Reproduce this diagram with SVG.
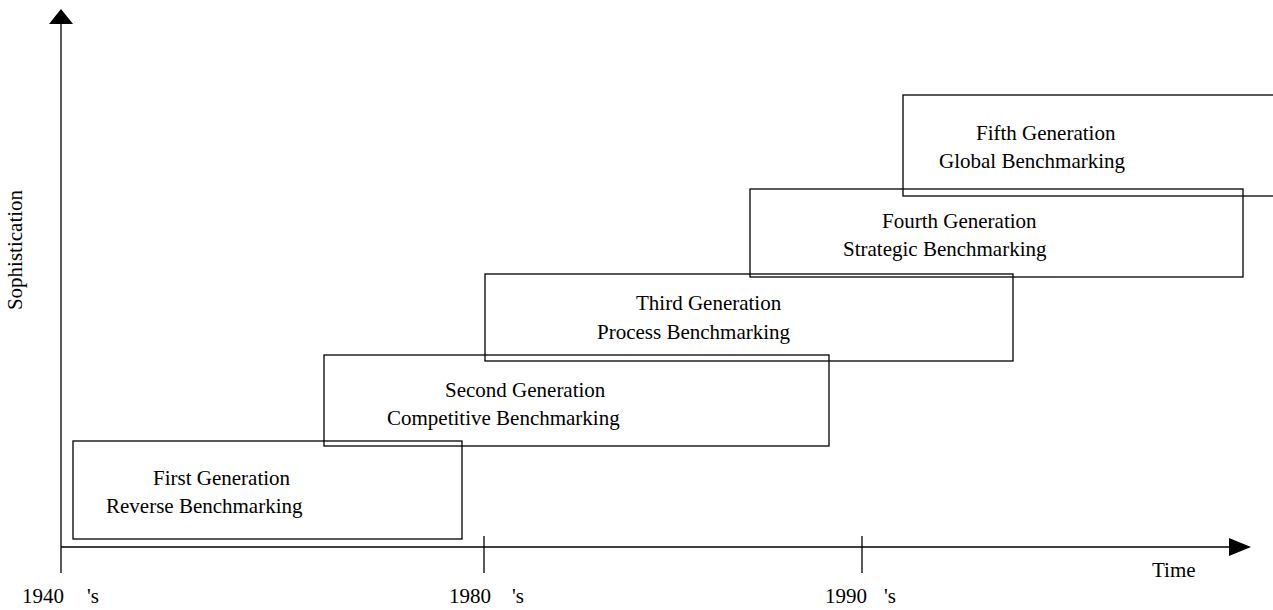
<svg xmlns="http://www.w3.org/2000/svg" width="1273" height="610" viewBox="0 0 1273 610">
  <style>
    .box { fill: none; stroke: #000; stroke-width: 1.3; }
    .axis { fill: none; stroke: #000; stroke-width: 1.3; }
    .head { fill: #000; stroke: none; }
    text { font-family: "Liberation Serif", "Times New Roman", serif; font-size: 21px; fill: #000; }
  </style>

  <rect width="1273" height="610" fill="#fff"/>

  <!-- axes, ticks and arrowheads -->
  <g id="connectors">
    <line class="axis" x1="61" y1="24" x2="61" y2="573"/>
    <polygon class="head" points="61,9 49,24 73,24"/>
    <line class="axis" x1="61" y1="547" x2="1230" y2="547"/>
    <polygon class="head" points="1229,538 1251,547 1229,556"/>
    <line class="axis" x1="484" y1="536" x2="484" y2="573"/>
    <line class="axis" x1="862" y1="536" x2="862" y2="573"/>
  </g>

  <!-- axis labels -->
  <g id="axis-labels">
    <text x="22" y="250" transform="rotate(-90 22 250)" text-anchor="middle">Sophistication</text>
    <text x="1152" y="577">Time</text>
    <text x="22" y="603">1940</text>
    <text x="87" y="603">'s</text>
    <text x="449" y="603">1980</text>
    <text x="512" y="603">'s</text>
    <text x="825" y="603">1990</text>
    <text x="884" y="603">'s</text>
  </g>

  <g id="gen1">
    <rect class="box" x="73" y="441" width="389" height="98"/>
    <text x="153" y="485">First Generation</text>
    <text x="106" y="513">Reverse Benchmarking</text>
  </g>

  <g id="gen2">
    <rect class="box" x="324" y="355" width="505" height="91"/>
    <text x="445" y="397">Second Generation</text>
    <text x="387" y="425">Competitive Benchmarking</text>
  </g>

  <g id="gen3">
    <rect class="box" x="485" y="274" width="528" height="87"/>
    <text x="636" y="310">Third Generation</text>
    <text x="597" y="339">Process Benchmarking</text>
  </g>

  <g id="gen4">
    <rect class="box" x="750" y="189" width="493" height="88"/>
    <text x="882" y="228">Fourth Generation</text>
    <text x="843" y="256">Strategic Benchmarking</text>
  </g>

  <g id="gen5">
    <rect class="box" x="903" y="95" width="420" height="101"/>
    <text x="976" y="140">Fifth Generation</text>
    <text x="939" y="168">Global Benchmarking</text>
  </g>
</svg>
